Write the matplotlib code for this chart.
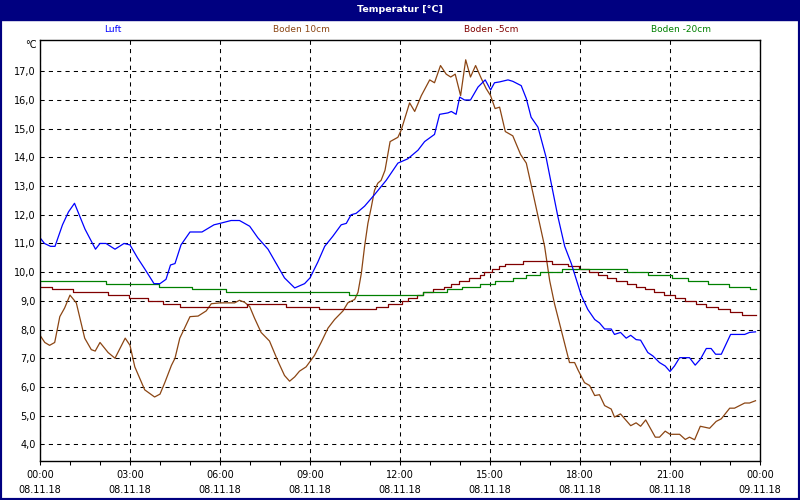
import numpy as np
import matplotlib
matplotlib.use('Agg')
import matplotlib.pyplot as plt
from matplotlib.patches import Rectangle

# hours since 08.11.18 00:00, temperatures in degC
luft_h = [0, 0.15, 0.35, 0.5, 0.6, 0.75, 0.95, 1.15, 1.5, 1.85, 2.0, 2.2, 2.5, 2.8, 3.0,
          3.25, 3.5, 3.8, 4.0, 4.2, 4.35, 4.5, 4.7, 5.0, 5.4, 5.8, 6.0, 6.37, 6.65, 6.99,
          7.26, 7.6, 7.93, 8.15, 8.49, 8.82, 9.0, 9.26, 9.49, 9.76, 10.04, 10.21, 10.37,
          10.54, 10.82, 11.15, 11.54, 11.93, 12.26, 12.6, 12.82, 13.15, 13.32, 13.6, 13.71,
          13.87, 13.99, 14.15, 14.35, 14.6, 14.84, 15.02, 15.15, 15.32, 15.6, 15.76, 16.04,
          16.21, 16.37, 16.6, 16.87, 17.04, 17.26, 17.49, 17.71, 18.04, 18.26, 18.49, 18.65,
          18.82, 19.04, 19.15, 19.35, 19.54, 19.69, 19.87, 20.02, 20.26, 20.43, 20.65, 20.84,
          21.0, 21.15, 21.32, 21.65, 21.84, 22.01, 22.21, 22.37, 22.52, 22.71, 23.02, 23.49,
          23.65, 23.85]
luft_t = [11.2, 11.0, 10.9, 10.9, 11.2, 11.65, 12.1, 12.4, 11.5, 10.8, 11.0, 11.0, 10.8, 11.0, 10.95,
          10.5, 10.1, 9.6, 9.6, 9.75, 10.25, 10.3, 10.95, 11.4, 11.4, 11.65, 11.7, 11.8, 11.8, 11.6,
          11.2, 10.8, 10.2, 9.8, 9.45, 9.6, 9.8, 10.35, 10.9, 11.25, 11.65, 11.7, 12.0,
          12.05, 12.3, 12.7, 13.2, 13.8, 13.95, 14.25, 14.55, 14.8, 15.5, 15.55, 15.6,
          15.5, 16.1, 16.0, 16.0, 16.45, 16.7, 16.35, 16.6, 16.63, 16.7, 16.65, 16.5,
          16.05, 15.4, 15.05, 14.0, 13.1, 11.95, 10.9, 10.3, 9.2, 8.7, 8.35, 8.23,
          8.02, 8.02, 7.83, 7.9, 7.7, 7.8, 7.65, 7.63, 7.2, 7.08, 6.85, 6.73,
          6.54, 6.73, 7.02, 7.02, 6.76, 6.96, 7.34, 7.34, 7.14, 7.14, 7.83, 7.83,
          7.9, 7.92]

boden10_h = [0, 0.16, 0.32, 0.49, 0.66, 0.82, 1.0, 1.21, 1.49, 1.71, 1.84, 2.0, 2.27, 2.5, 2.84,
             3.0, 3.16, 3.49, 3.82, 4.0, 4.16, 4.38, 4.5, 4.66, 4.82, 5.0, 5.27, 5.54, 5.71, 6.0,
             6.49, 6.65, 6.82, 6.99, 7.15, 7.37, 7.65, 7.93, 8.15, 8.32, 8.49, 8.65, 8.87, 9.15,
             9.37, 9.6, 9.82, 10.1, 10.26, 10.49, 10.6, 10.71, 10.82, 10.93, 11.04, 11.15, 11.26,
             11.37, 11.5, 11.67, 11.93, 12.04, 12.32, 12.49, 12.71, 12.99, 13.15, 13.35, 13.54,
             13.69, 13.84, 14.02, 14.19, 14.35, 14.52, 14.71, 14.87, 15.02, 15.17, 15.32, 15.51,
             15.76, 16.02, 16.21, 16.37, 16.6, 16.82, 16.99, 17.15, 17.37, 17.54, 17.65, 17.82,
             17.93, 18.15, 18.32, 18.49, 18.65, 18.82, 19.04, 19.15, 19.35, 19.69, 19.87, 20.02,
             20.19, 20.51, 20.65, 20.84, 21.0, 21.32, 21.51, 21.65, 21.82, 22.01, 22.32, 22.54,
             22.71, 22.99, 23.15, 23.49, 23.65, 23.85]
boden10_t = [7.8, 7.55, 7.45, 7.55, 8.45, 8.75, 9.2, 8.93, 7.7, 7.3, 7.25, 7.55, 7.2, 7.0, 7.7,
             7.45, 6.7, 5.9, 5.65, 5.75, 6.15, 6.75, 7.0, 7.7, 8.05, 8.45, 8.47, 8.65, 8.9, 8.93,
             8.93, 9.02, 8.95, 8.8, 8.4, 7.9, 7.6, 6.9, 6.4, 6.2, 6.35, 6.55, 6.7, 7.1,
             7.55, 8.05, 8.35, 8.65, 8.93, 9.05, 9.3, 9.95, 10.9, 11.7, 12.25, 12.85, 13.1,
             13.2, 13.55, 14.55, 14.7, 14.95, 15.9, 15.6, 16.15, 16.7, 16.6, 17.2, 16.9,
             16.8, 16.9, 16.15, 17.4, 16.8, 17.2, 16.75, 16.4, 16.15, 15.7, 15.75, 14.9,
             14.75, 14.1, 13.8, 13.05, 11.95, 10.9, 9.7, 8.9, 8.0, 7.3, 6.85, 6.85,
             6.6, 6.15, 6.05, 5.7, 5.73, 5.35, 5.23, 4.95, 5.06, 4.65, 4.75, 4.63,
             4.85, 4.25, 4.25, 4.46, 4.35, 4.35, 4.17, 4.25, 4.16, 4.63, 4.56, 4.8,
             4.89, 5.26, 5.26, 5.44, 5.44, 5.52]

# soil sensors change in 0.1 degC steps: time of change -> new value
boden5_h = [0, 0.4, 1.1, 2.25, 2.95, 3.6, 4.1, 4.65, 6.9, 8.2, 9.3, 11.2, 11.6, 12.05, 12.25,
            12.55, 12.75, 13.1, 13.45, 13.7, 13.95, 14.3, 14.65, 14.8, 15.05, 15.3, 15.5, 16.1,
            17.05, 17.6, 17.95, 18.3, 18.6, 18.9, 19.2, 19.55, 19.85, 20.15, 20.45, 20.8, 21.15,
            21.5, 21.85, 22.2, 22.6, 23.0, 23.4, 23.85]
boden5_t = [9.5, 9.4, 9.3, 9.2, 9.1, 9.0, 8.9, 8.8, 8.9, 8.8, 8.7, 8.8, 8.9, 9.0, 9.1,
            9.2, 9.3, 9.4, 9.5, 9.6, 9.7, 9.8, 9.9, 10.0, 10.1, 10.2, 10.3, 10.4,
            10.3, 10.2, 10.1, 10.0, 9.9, 9.8, 9.7, 9.6, 9.5, 9.4, 9.3, 9.2, 9.1,
            9.0, 8.9, 8.8, 8.7, 8.6, 8.5, 8.5]

boden20_h = [0, 2.2, 3.95, 5.05, 6.2, 10.3, 12.75, 13.55, 14.05, 14.65, 15.15, 15.75, 16.2,
             16.65, 17.4, 19.55, 20.25, 21.05, 21.6, 22.25, 22.95, 23.65, 23.85]
boden20_t = [9.7, 9.6, 9.5, 9.4, 9.3, 9.2, 9.3, 9.4, 9.5, 9.6, 9.7, 9.8, 9.9,
             10.0, 10.1, 10.0, 9.9, 9.8, 9.7, 9.6, 9.5, 9.4, 9.4]

series_names = ['Luft', 'Boden 10cm', 'Boden -5cm', 'Boden -20cm']
series_colors = ['#0000ff', '#8b4513', '#800000', '#008000']
name_x = [113, 301, 491, 681]   # header label positions (px)

x_ticks = list(range(0, 25, 3))
x_labels = ['00:00\n08.11.18', '03:00\n08.11.18', '06:00\n08.11.18', '09:00\n08.11.18',
            '12:00\n08.11.18', '15:00\n08.11.18', '18:00\n08.11.18', '21:00\n08.11.18',
            '00:00\n09.11.18']
y_ticks = list(range(4, 18))

W, H = 800, 500
navy = '#000080'

fig = plt.figure(figsize=(W/100, H/100), dpi=100)
fig.patch.set_facecolor('white')
ax = fig.add_axes([40/W, 1-460.7/H, 720/W, 420.7/H])

ax.plot(boden10_h, boden10_t, color=series_colors[1], lw=0.9)
ax.step(boden5_h, boden5_t, where='post', color=series_colors[2], lw=0.9)
ax.step(boden20_h, boden20_t, where='post', color=series_colors[3], lw=0.9)
ax.plot(luft_h, luft_t, color=series_colors[0], lw=0.9)

ax.set_xlim(0, 24)
ax.set_ylim(3.43, 18.09)
ax.set_xticks(x_ticks)
ax.set_xticklabels(x_labels, linespacing=1.65)
ax.set_xticks(range(25), minor=True)
ax.set_yticks(y_ticks)
ax.set_yticklabels([('%.1f' % v).replace('.', ',') for v in y_ticks])

dash = (0, (4, 4))
ax.xaxis.grid(True, which='major', color='black', linestyle=dash, lw=0.75)
ax.yaxis.grid(True, which='major', color='black', linestyle=dash, lw=0.75)
ax.tick_params(axis='x', which='both', direction='out', length=3, width=0.75,
               labelsize=7, pad=3.5, colors='black')
ax.tick_params(axis='y', length=0, labelsize=7, pad=3)
for s in ax.spines.values():
    s.set_linewidth(1.0)

# header: title bar, series names, unit
fig.add_artist(Rectangle((0, 1-20/H), 1, 20/H, transform=fig.transFigure,
                         color=navy, zorder=0))
fig.text(0.5, 1-10/H, 'Temperatur [°C]', color='white', weight='bold',
         ha='center', va='center', fontsize=6.8)
for name, col, px in zip(series_names, series_colors, name_x):
    fig.text(px/W, 1-30/H, name, color=col, ha='center', va='center', fontsize=6.5)
fig.text(37/W, 1-45/H, '°C', ha='right', va='center', fontsize=7)

fig.add_artist(Rectangle((0, 0), 1, 1, transform=fig.transFigure, fill=False,
                         edgecolor=navy, lw=3))

fig.savefig('out.png', dpi=100)
